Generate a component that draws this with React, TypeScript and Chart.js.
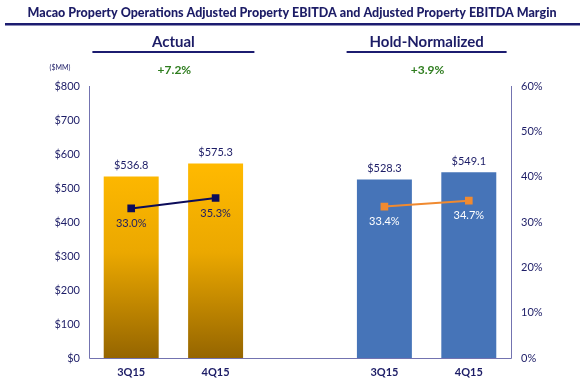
import React, { useEffect, useRef } from "react";
import { Chart, registerables } from "chart.js";

Chart.register(...registerables);

const categories = ["3Q15", "4Q15", "", "3Q15", "4Q15"];
const ebitda = [536.8, 575.3, null, 528.3, 549.1];
const actualMargin = [33.0, 35.3, null, null, null];
const holdMargin = [null, null, null, 33.4, 34.7];
const leftTicks = [0, 100, 200, 300, 400, 500, 600, 700, 800];
const rightTicks = [0, 10, 20, 30, 40, 50, 60];
const title = "Macao Property Operations Adjusted Property EBITDA and Adjusted Property EBITDA Margin";
const groupTitles = ["Actual", "Hold-Normalized"];
const groupChanges = ["+7.2%", "+3.9%"];

const NAVY = "#1c1c66";
const AXIS = "#7373b0";
const FONT = "Lato, 'Open Sans', sans-serif";

export default function App() {
  const ref = useRef<HTMLCanvasElement>(null);
  useEffect(() => {
    const canvas = ref.current!;
    const overlay = {
      id: "overlay",
      afterDraw(chart: any) {
        const ctx = chart.ctx;
        const area = chart.chartArea;
        const xs = chart.scales.x;
        const ys = chart.scales.y;
        const y1 = chart.scales.y1;
        ctx.save();
        // title
        ctx.fillStyle = NAVY;
        ctx.font = `900 12.5px ${FONT}`;
        ctx.textAlign = "center";
        ctx.textBaseline = "middle";
        ctx.fillText(title, 292, 13);
        ctx.fillStyle = "#1c1c70";
        ctx.fillRect(5, 23, 575, 2.5);
        // group headers
        const groups = [
          { c: (xs.getPixelForValue(0) + xs.getPixelForValue(1)) / 2, half: 81 },
          { c: (xs.getPixelForValue(3) + xs.getPixelForValue(4)) / 2, half: 80 },
        ];
        groups.forEach((g, i) => {
          ctx.fillStyle = NAVY;
          ctx.font = `bold 15px ${FONT}`;
          ctx.fillText(groupTitles[i], g.c, 42);
          ctx.fillStyle = "#1c1c70";
          ctx.fillRect(g.c - g.half, 51, g.half * 2, 2);
          ctx.fillStyle = "#2e7d1e";
          ctx.font = `bold 12px ${FONT}`;
          ctx.fillText(groupChanges[i], g.c + 1, 70);
        });
        ctx.fillStyle = NAVY;
        ctx.font = `7px ${FONT}`;
        ctx.fillText("($MM)", 60, 68);
        // bar labels
        ctx.font = `11px ${FONT}`;
        ebitda.forEach((v, i) => {
          if (v == null) return;
          ctx.fillStyle = NAVY;
          ctx.fillText("$" + v.toFixed(1), xs.getPixelForValue(i), ys.getPixelForValue(v) - 10);
        });
        // margin labels
        actualMargin.forEach((v, i) => {
          if (v == null) return;
          ctx.fillStyle = NAVY;
          ctx.fillText(v.toFixed(1) + "%", xs.getPixelForValue(i), y1.getPixelForValue(v) + 15);
        });
        holdMargin.forEach((v, i) => {
          if (v == null) return;
          ctx.fillStyle = "#ffffff";
          ctx.fillText(v.toFixed(1) + "%", xs.getPixelForValue(i), y1.getPixelForValue(v) + 15);
        });
        // axes lines
        ctx.strokeStyle = AXIS;
        ctx.lineWidth = 1;
        ctx.beginPath();
        ctx.moveTo(area.left + 0.5, area.top);
        ctx.lineTo(area.left + 0.5, area.bottom + 0.5);
        ctx.lineTo(area.right + 0.5, area.bottom + 0.5);
        ctx.lineTo(area.right + 0.5, area.top);
        ctx.stroke();
        ctx.restore();
      },
    };

    const barColor = (c: any) => {
      const chart = c.chart;
      const area = chart.chartArea;
      if (c.dataIndex >= 3) return "#4674b8";
      if (!area) return "#f5b000";
      const g = chart.ctx.createLinearGradient(0, area.top + 80, 0, area.bottom);
      g.addColorStop(0, "#ffb900");
      g.addColorStop(0.45, "#eba800");
      g.addColorStop(1, "#956500");
      return g;
    };

    const chart = new Chart(canvas, {
      type: "bar",
      data: {
        labels: categories,
        datasets: [
          {
            type: "line",
            data: actualMargin as any,
            yAxisID: "y1",
            borderColor: "#0c0c5a",
            backgroundColor: "#0c0c5a",
            borderWidth: 2,
            pointStyle: "rect",
            pointRadius: 4,
            spanGaps: false,
            order: 0,
          },
          {
            type: "line",
            data: holdMargin as any,
            yAxisID: "y1",
            borderColor: "#f08a30",
            backgroundColor: "#f08a30",
            borderWidth: 2,
            pointStyle: "rect",
            pointRadius: 4,
            order: 0,
          },
          {
            type: "bar",
            data: ebitda as any,
            yAxisID: "y",
            backgroundColor: barColor as any,
            borderColor: "rgba(255,255,255,0.5)",
            borderWidth: 1,
            barPercentage: 0.675,
            categoryPercentage: 1,
            order: 1,
          },
        ],
      },
      options: {
        animation: false,
        responsive: false,
        layout: { padding: { top: 86, left: 0, right: 0, bottom: 0 } },
        plugins: { legend: { display: false }, tooltip: { enabled: false } },
        scales: {
          x: {
            offset: true,
            grid: { display: false, drawTicks: false },
            border: { display: false },
            ticks: { color: NAVY, font: { family: FONT, size: 11, weight: "bold" }, padding: 8, maxRotation: 0 },
            afterFit: (s: any) => { s.height = 26; },
          },
          y: {
            position: "left",
            min: 0,
            max: 800,
            afterBuildTicks: (s: any) => { s.ticks = leftTicks.map((v) => ({ value: v })); },
            grid: { display: false, drawTicks: false },
            border: { display: false },
            ticks: { color: NAVY, font: { family: FONT, size: 11 }, padding: 9, callback: (v: any) => "$" + v },
            afterFit: (s: any) => { s.width = 89; },
          },
          y1: {
            position: "right",
            min: 0,
            max: 60,
            afterBuildTicks: (s: any) => { s.ticks = rightTicks.map((v) => ({ value: v })); },
            grid: { display: false, drawTicks: false },
            border: { display: false },
            ticks: { color: NAVY, font: { family: FONT, size: 11 }, padding: 10, callback: (v: any) => v + "%" },
            afterFit: (s: any) => { s.width = 69; },
          },
        },
      },
      plugins: [overlay],
    });
    return () => chart.destroy();
  }, []);
  return (
    <div style={{ position: "fixed", left: 0, top: 0, width: 580, height: 384, background: "#fff" }}>
      <canvas ref={ref} width={580} height={384} style={{ width: 580, height: 384 }} />
    </div>
  );
}
